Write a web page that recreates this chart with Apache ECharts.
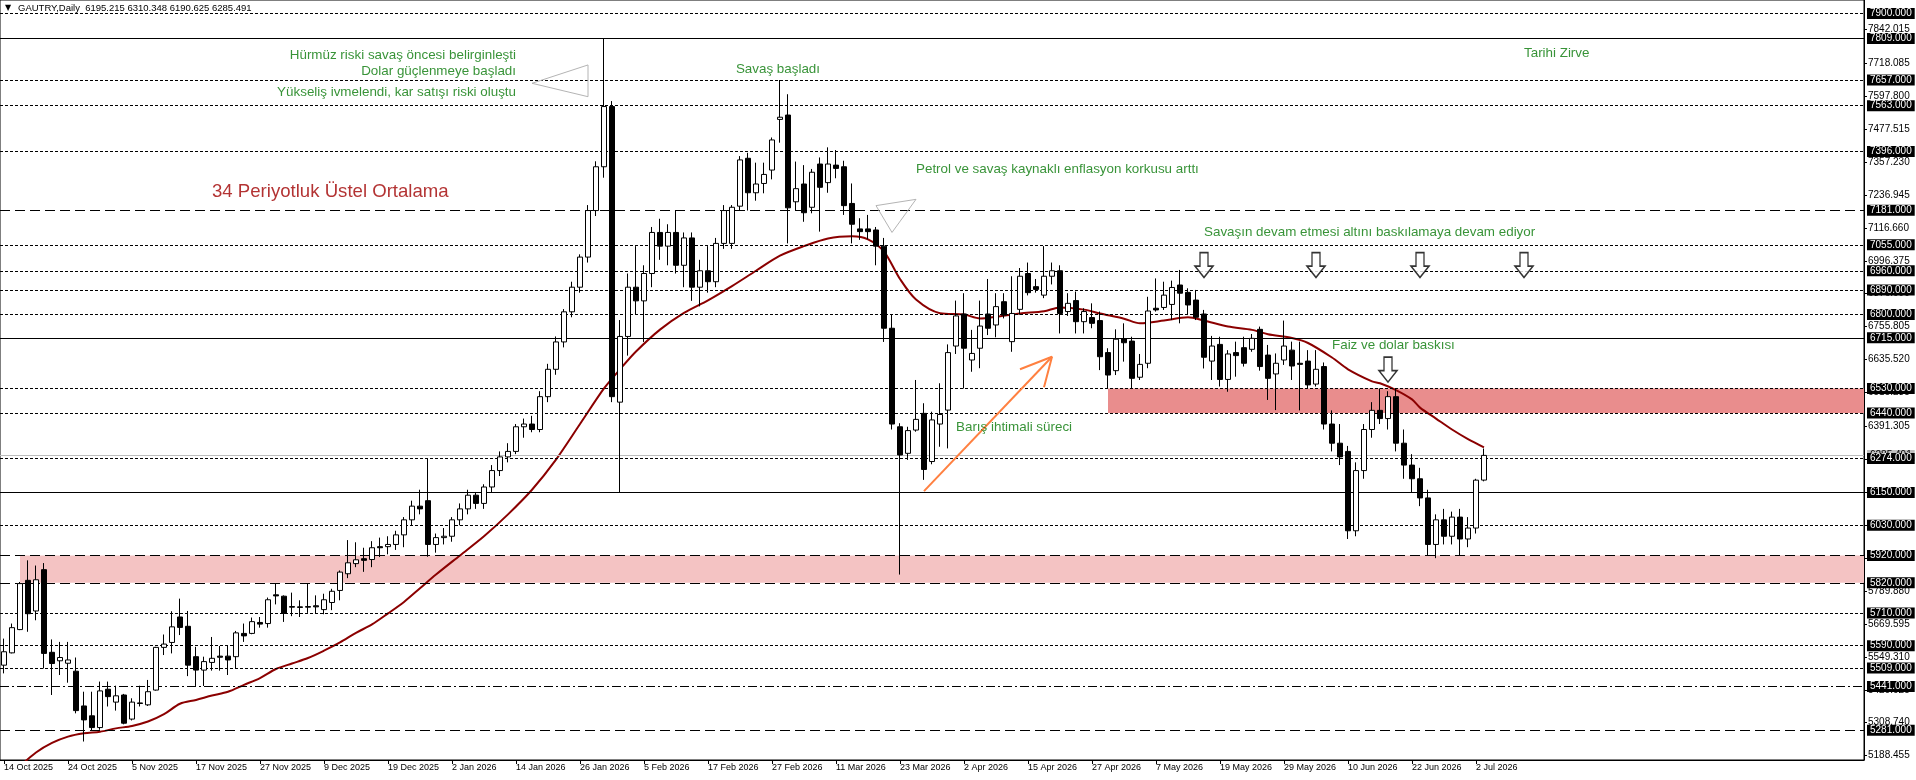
<!DOCTYPE html>
<html><head><meta charset="utf-8">
<script src="https://cdn.jsdelivr.net/npm/echarts@6/dist/echarts.min.js"></script>
<style>html,body{margin:0;padding:0;background:#fff;}#c{width:1916px;height:780px;}</style>
</head><body><div id="c"></div>
<script>
// ---- categories (trading days) ----
const monthDays = [
  ['Oct 2025',[14,15,16,17,20,21,22,23,24,27,28,29,30,31]],
  ['Nov 2025',[3,4,5,6,7,10,11,12,13,14,17,18,19,20,21,24,25,26,27,28]],
  ['Dec 2025',[1,2,3,4,5,8,9,10,11,12,15,16,17,18,19,22,23,24,26,29,30,31]],
  ['Jan 2026',[2,5,6,7,8,9,12,13,14,15,16,19,20,21,22,23,26,27,28,29,30]],
  ['Feb 2026',[2,3,4,5,6,9,10,11,12,13,16,17,18,19,20,23,24,25,26,27]],
  ['Mar 2026',[2,3,4,5,6,9,10,11,12,13,16,17,18,19,20,23,24,25,26,27,30,31]],
  ['Apr 2026',[1,2,6,7,8,9,10,13,14,15,16,17,20,21,22,23,24,27,28,29,30]],
  ['May 2026',[1,4,5,6,7,8,11,12,13,14,15,18,19,20,21,22,25,26,27,28,29]],
  ['Jun 2026',[1,2,3,4,5,8,9,10,11,12,15,16,17,18,19,22,23,24,25,26,29,30]],
  ['Jul 2026',[1,2,3]]
];
const totalSlots = 233;

// ---- candles [open, high, low, close] ----
const ohlc = [
[5519,5616,5489,5568],[5564,5671,5562,5656],[5649,5823,5647,5817],[5829,5902,5641,5707],[5717,5883,5683,5831],
[5868,5892,5507,5562],[5566,5613,5410,5525],[5535,5604,5483,5547],[5526,5604,5455,5538],[5497,5547,5343,5353],
[5370,5422,5240,5319],[5334,5422,5280,5291],[5291,5459,5283,5425],[5431,5459,5368,5404],[5384,5444,5353,5407],
[5410,5414,5303,5307],[5322,5398,5317,5384],[5381,5444,5368,5379],[5374,5465,5370,5422],[5428,5586,5426,5584],
[5584,5631,5556,5596],[5602,5716,5562,5659],[5695,5762,5629,5657],[5661,5717,5479,5519],[5550,5586,5443,5501],
[5501,5550,5443,5532],[5529,5622,5499,5544],[5552,5589,5499,5548],[5552,5592,5483,5538],[5550,5644,5507,5637],
[5635,5671,5604,5626],[5635,5693,5632,5678],[5675,5695,5656,5669],[5671,5766,5656,5758],[5776,5817,5741,5772],
[5771,5774,5677,5708],[5733,5784,5698,5731],[5732,5756,5695,5730],[5733,5817,5710,5731],[5736,5774,5708,5732],
[5722,5780,5705,5758],[5748,5798,5720,5789],[5792,5865,5756,5859],[5853,5976,5837,5893],[5890,5968,5877,5904],
[5908,5948,5860,5902],[5905,5972,5877,5948],[5952,5985,5914,5948],[5952,5990,5924,5960],[5960,6010,5940,5995],
[5995,6060,5950,6050],[6050,6120,6030,6100],[6100,6160,6070,6090],[6120,6274,5915,5960],[5960,6000,5930,5985],
[5985,6020,5960,5990],[5990,6060,5970,6050],[6050,6110,6030,6090],[6090,6160,6070,6140],[6140,6150,6090,6110],
[6110,6180,6090,6170],[6170,6250,6150,6230],[6230,6300,6210,6280],[6280,6330,6260,6300],[6300,6400,6290,6390],
[6390,6420,6350,6400],[6400,6430,6370,6380],[6380,6520,6370,6500],[6500,6620,6480,6600],[6600,6720,6580,6700],
[6700,6820,6680,6810],[6810,6920,6790,6900],[6900,7020,6880,7010],[7010,7200,6990,7180],[7180,7360,7160,7340],
[7340,7809,7300,7560],[7560,7580,6480,6500],[6480,6780,6150,6720],[6720,6950,6650,6900],[6900,7050,6800,6850],
[6850,6980,6700,6950],[6950,7120,6900,7100],[7100,7150,7000,7050],[7050,7130,6980,7100],[7100,7180,6950,6980],
[6980,7100,6900,7080],[7080,7100,6850,6900],[6900,7000,6830,6960],[6960,7050,6880,6920],[6920,7080,6900,7060],
[7060,7200,7040,7180],[7060,7200,7040,7192],[7196,7379,7182,7365],[7371,7391,7180,7245],[7245,7355,7216,7277],
[7279,7355,7243,7312],[7328,7447,7294,7438],[7513,7657,7428,7521],[7529,7605,7060,7190],[7212,7359,7182,7260],
[7277,7346,7139,7172],[7192,7332,7170,7320],[7350,7374,7103,7265],[7282,7411,7245,7350],[7346,7401,7298,7334],
[7340,7362,7164,7198],[7206,7279,7060,7130],[7113,7152,7073,7103],[7113,7164,7075,7103],[7109,7120,6980,7050],
[7050,7080,6700,6750],[6750,6800,6380,6400],[6390,6403,5850,6287],[6293,6390,6269,6376],[6378,6561,6372,6417],
[6439,6476,6196,6234],[6263,6445,6253,6415],[6400,6549,6317,6435],[6451,6691,6311,6661],[6685,6851,6656,6795],
[6802,6878,6530,6677],[6634,6744,6591,6658],[6677,6851,6604,6758],[6802,6930,6725,6750],[6762,6878,6717,6829],
[6847,6878,6786,6798],[6701,6940,6664,6804],[6819,6970,6800,6940],[6950,6990,6870,6880],[6902,6930,6880,6892],
[6871,7050,6860,6940],[6940,6990,6910,6960],[6960,6980,6731,6804],[6811,6878,6795,6841],[6851,6884,6731,6774],
[6774,6823,6731,6811],[6789,6841,6750,6768],[6778,6811,6597,6646],[6661,6677,6530,6579],[6595,6746,6579,6710],
[6712,6768,6628,6697],[6703,6719,6530,6567],[6571,6656,6561,6618],[6622,6865,6604,6813],[6823,6932,6811,6817],
[6826,6920,6817,6871],[6837,6924,6780,6899],[6908,6963,6768,6878],[6881,6896,6798,6835],[6853,6890,6780,6790],
[6802,6817,6603,6644],[6630,6722,6561,6685],[6691,6719,6537,6563],[6563,6670,6518,6656],[6661,6701,6573,6650],
[6679,6719,6610,6622],[6673,6729,6664,6713],[6746,6756,6595,6610],[6652,6689,6488,6567],[6583,6658,6451,6622],
[6634,6778,6616,6685],[6670,6701,6561,6612],[6622,6701,6450,6618],[6630,6670,6530,6543],[6546,6670,6537,6600],
[6610,6625,6380,6400],[6400,6450,6300,6330],[6330,6400,6250,6280],[6300,6320,5980,6010],[6010,6260,5990,6230],
[6230,6400,6200,6380],[6380,6480,6350,6450],[6450,6530,6400,6420],[6420,6520,6380,6500],[6500,6530,6300,6330],
[6330,6380,6200,6250],[6250,6290,6150,6200],[6200,6240,6100,6130],[6130,6160,5920,5960],[5960,6070,5910,6050],
[6050,6090,5960,5990],[5990,6080,5960,6060],[6060,6090,5920,5980],[5980,6060,5950,6020],[6020,6200,6000,6195],
[6195.215,6310.348,6190.625,6285.491]
];

const emaPoints = [[2,5150],[4,5200],[6,5235],[8,5258],[10,5270],[12,5276],[14,5288],[16,5297],[18,5313],[20,5340],
[22,5378],[24,5392],[26,5408],[28,5422],[30,5447],[32,5472],[34,5505],[36,5525],[38,5545],[40,5572],[42,5602],
[44,5637],[46,5668],[48,5708],[50,5750],[52,5800],[54,5850],[57,5920],[60,5990],[63,6070],[66,6160],[69,6270],
[72,6400],[75,6530],[77,6600],[79,6665],[82,6745],[85,6806],[88,6852],[91,6904],[94,6960],[97,7015],[100,7050],
[103,7078],[106,7086],[108,7075],[110,7030],[112,6930],[114,6855],[117,6805],[120,6800],[122,6786],[124,6792],
[127,6804],[130,6812],[132,6826],[135,6818],[137,6804],[140,6785],[142,6768],[145,6778],[148,6790],[150,6778],
[153,6756],[156,6744],[158,6728],[161,6714],[163,6696],[166,6643],[168,6600],[171,6556],[172,6549],[174,6524],
[176,6490],[177,6460],[179,6420],[181,6380],[183,6345],[185,6315]];

// ---- horizontal levels ----
const levelValues = [7900,7809,7657,7563,7396,7181,7055,6960,6890,6800,6715,6530,6440,6274,6150,6030,5920,5820,5710,5590,5509,5441,5281];
const levelStyles = ['dot','solid','dot','dot','dot','dash','dot','dot','dot','dot','solid','dot','dot','dot','solid','dot','dash','dash','dot','dot','dot','dashdot','dash'];
const bidPrice = 6285.491;

// ---- zones [startBar, top, bottom, colour] ----
const zones = [[2,5920,5820,'#F4C3C3'],[138,6530,6440,'#E98D8D']];

// ---- right price-scale tick labels ----
const yTickValues = [5188.455,5308.740,5429.025,5549.310,5669.595,5789.880,5910.165,6030.450,6150.735,6271.020,6391.305,6515.235,6635.520,6755.805,6876.090,6996.375,7116.660,7236.945,7357.230,7477.515,7597.800,7718.085,7842.015];
const yMin = 5172.5, yMax = 7949.3;

// ---- annotations [text, bar, price, side, colour, size] ----
const notes = [
  ['Hürmüz riski savaş öncesi belirginleşti',64,7746,'left','#067806',13.4],
  ['Dolar güçlenmeye başladı',64,7687,'left','#067806',13.4],
  ['Yükseliş ivmelendi, kar satışı riski oluştu',64,7611,'left','#067806',13.4],
  ['Savaş başladı',102,7696,'left','#067806',13.4],
  ['Petrol ve savaş kaynaklı enflasyon korkusu arttı',114,7331,'right','#067806',13.4],
  ['34 Periyotluk Üstel Ortalama',26,7248,'right','#A00000',18.6],
  ['Tarihi Zirve',190,7753,'right','#067806',13.4],
  ['Savaşın devam etmesi altını baskılamaya devam ediyor',150,7102,'right','#067806',13.4],
  ['Faiz ve dolar baskısı',166,6689,'right','#067806',13.4],
  ['Barış ihtimali süreci',119,6388,'right','#067806',13.4]
];
const downArrows = [[150,6981],[164,6981],[177,6981],[190,6981],[173,6599]];
const triangle1 = [[73,7712],[66,7645],[73,7596],[73,7712]];
const triangle2 = [[109,7198],[114,7221],[111,7100],[109,7198]];
const orangeShaft = [[115,6155],[131,6646]];
const orangeHead = [[127,6600],[131,6646],[130,6534]];
const header = 'GAUTRY,Daily  6195.215 6310.348 6190.625 6285.491';

// ---------------------------------------------------------------
const dates = [];
monthDays.forEach(([m, ds]) => ds.forEach(d => dates.push(d + ' ' + m)));
const cats = dates.slice();
while (cats.length < totalSlots) cats.push('');

const candleData = ohlc.map(r => [r[0], r[3], r[2], r[1]]);
const FONT = '"Liberation Sans", Arial, sans-serif';
const showDate = (idx, val) => idx % 8 === 0 && val !== '';

function lineStyleFor(s) {
  if (s === 'solid') return {type: 'solid', color: '#000', width: 1};
  if (s === 'dash') return {type: [10, 5], color: '#000', width: 1.2};
  if (s === 'dashdot') return {type: [9, 3, 2, 3], color: '#000', width: 1};
  return {type: [3, 2], color: '#000', width: 1};
}

const levelLines = levelValues.map((v, k) => ({
  yAxis: v,
  lineStyle: lineStyleFor(levelStyles[k]),
  label: {
    show: true, position: 'end', distance: 3,
    formatter: v.toFixed(3),
    backgroundColor: '#000', color: '#fff', fontSize: 10, fontFamily: FONT,
    padding: [1, 3, 0, 3]
  }
}));

const zoneAreas = zones.map(z => [
  {xAxis: z[0], yAxis: z[1], itemStyle: {color: z[3], opacity: 1}},
  {yAxis: z[2]}
]);

const chart = echarts.init(document.getElementById('c'), null, {renderer: 'canvas'});
chart.setOption({
  animation: false,
  backgroundColor: '#fff',
  grid: {left: 0, right: 52, top: 0, bottom: 20, show: true, borderColor: '#000', borderWidth: 1, backgroundColor: 'transparent'},
  xAxis: {
    type: 'category', data: cats, boundaryGap: true,
    axisLine: {show: true, lineStyle: {color: '#000', width: 1}},
    axisTick: {show: true, interval: showDate, alignWithLabel: true, length: 4, lineStyle: {color: '#000'}},
    axisLabel: {interval: showDate, align: 'left', margin: 3, color: '#000', fontSize: 9, fontFamily: FONT},
    splitLine: {show: false}
  },
  yAxis: {
    type: 'value', position: 'right', min: yMin, max: yMax,
    axisLine: {show: true, lineStyle: {color: '#000', width: 1}},
    axisTick: {show: true, length: 3, lineStyle: {color: '#000'}, customValues: yTickValues},
    axisLabel: {
      color: '#000', fontSize: 10, fontFamily: FONT, margin: 4,
      customValues: yTickValues,
      formatter: v => Number(v).toFixed(3)
    },
    splitLine: {show: false}
  },
  graphic: [
    {type: 'text', left: 5, top: 4, z: 100, style: {text: '▼', fontSize: 8, fill: '#000', fontFamily: '"DejaVu Sans", sans-serif'}},
    {type: 'text', left: 18, top: 3, z: 100, style: {text: header, fontSize: 9.5, fill: '#000', fontFamily: FONT}}
  ],
  series: [
    {
      name: 'levels', type: 'line', data: [], z: 1, silent: true,
      markArea: {silent: true, data: zoneAreas, z: 1},
      markLine: {silent: true, symbol: ['none', 'none'], data: [
        {yAxis: bidPrice, lineStyle: {type: 'solid', color: '#BDBDBD', width: 1},
         label: {show: true, position: 'end', distance: 3, formatter: bidPrice.toFixed(3), backgroundColor: '#C0C0C0', color: '#000', fontSize: 10, fontFamily: FONT, padding: [1, 3, 0, 3]}}
      ]}
    },
    {
      name: 'levels2', type: 'line', data: [], z: 2, silent: true,
      markLine: {silent: true, symbol: ['none', 'none'], data: levelLines}
    },
    {
      name: 'EMA34', type: 'line', data: emaPoints, z: 4, showSymbol: false, symbol: 'none',
      connectNulls: true, smooth: 0.3, clip: true,
      lineStyle: {color: '#8B0000', width: 2}
    },
    {
      name: 'GAUTRY', type: 'candlestick', data: candleData, z: 5, barWidth: 5,
      itemStyle: {color: '#fff', color0: '#000', borderColor: '#000', borderColor0: '#000', borderWidth: 1}
    },
    {name: 'tri1', type: 'line', data: triangle1, z: 6, symbol: 'none', lineStyle: {color: '#B4B4B4', width: 1}},
    {name: 'tri2', type: 'line', data: triangle2, z: 6, symbol: 'none', lineStyle: {color: '#B4B4B4', width: 1}},
    {name: 'arrowShaft', type: 'line', data: orangeShaft, z: 6, symbol: 'none', lineStyle: {color: '#FF8040', width: 2}},
    {name: 'arrowHead', type: 'line', data: orangeHead, z: 6, symbol: 'none', lineStyle: {color: '#FF8040', width: 2}},
    {
      name: 'arrows', type: 'scatter', data: downArrows, z: 7,
      symbol: 'path://M-4,0 L4,0 L4,13 L9,13 L0,24 L-9,13 L-4,13 Z', symbolSize: [18, 25],
      itemStyle: {color: '#fff', borderColor: '#000', borderWidth: 1.5}
    },
    {
      name: 'notes', type: 'scatter', z: 8, symbolSize: 0,
      data: notes.map(n => ({
        value: [n[1], n[2]],
        label: {show: true, formatter: n[0], position: n[3], distance: 0, color: n[4], fontSize: n[5], fontFamily: FONT}
      }))
    }
  ]
});
</script>
</body></html>
